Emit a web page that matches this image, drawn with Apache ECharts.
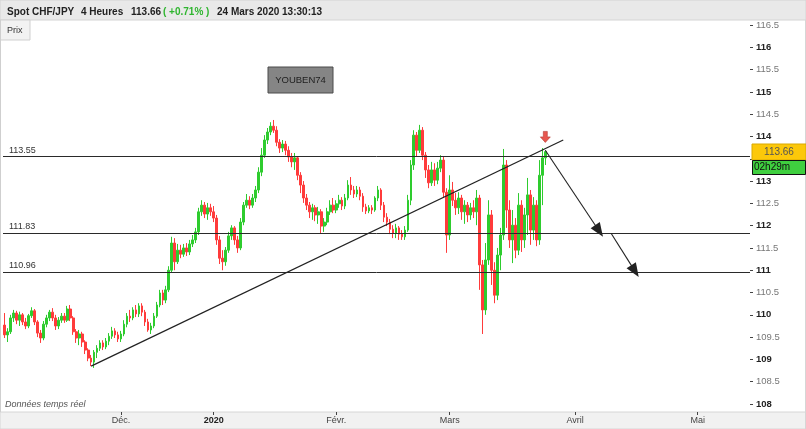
<!DOCTYPE html>
<html><head><meta charset="utf-8">
<script src="https://cdn.jsdelivr.net/npm/echarts@6/dist/echarts.min.js"></script>
<style>html,body{margin:0;padding:0;background:#fff}#c{width:806px;height:429px}</style>
</head><body><div id="c"></div>
<script>
const FONT = "'Liberation Sans', Arial, sans-serif";
// [open, close, low, high] — 4h candles, CHF/JPY
const candles = [
[109.77,109.55,109.48,110.04],[109.55,109.62,109.39,109.70],[109.62,109.93,109.57,110.00],[109.93,110.04,109.84,110.11],
[110.04,109.88,109.79,110.09],[109.88,110.00,109.75,110.07],[110.00,109.84,109.77,110.04],[109.84,109.75,109.68,109.93],
[109.75,109.98,109.70,110.02],[109.98,110.09,109.93,110.17],[110.09,109.84,109.77,110.13],[109.84,109.59,109.50,109.88],
[109.59,109.48,109.37,109.66],[109.48,109.79,109.43,109.86],[109.79,109.93,109.72,110.00],[109.93,110.06,109.86,110.11],
[110.06,109.93,109.86,110.15],[109.93,109.75,109.66,110.00],[109.75,109.88,109.68,109.95],[109.88,109.97,109.82,110.04],
[109.97,109.88,109.82,110.04],[109.88,110.13,109.84,110.20],[110.13,109.93,109.86,110.22],[109.93,109.62,109.55,109.97],
[109.62,109.48,109.37,109.68],[109.48,109.57,109.32,109.66],[109.57,109.39,109.28,109.62],[109.39,109.21,109.12,109.43],
[109.21,109.03,108.96,109.25],[109.03,108.94,108.85,109.10],[108.94,109.16,108.81,109.21],[109.16,109.25,109.03,109.32],
[109.25,109.37,109.19,109.43],[109.37,109.28,109.21,109.43],[109.28,109.41,109.23,109.48],[109.41,109.52,109.32,109.59],
[109.52,109.64,109.46,109.73],[109.64,109.55,109.48,109.70],[109.55,109.46,109.39,109.62],[109.46,109.57,109.39,109.64],
[109.57,109.79,109.52,109.88],[109.79,109.97,109.72,110.04],[109.97,109.93,109.84,110.11],[109.93,110.11,109.88,110.17],
[110.11,110.02,109.95,110.22],[110.02,110.20,109.95,110.26],[110.20,110.06,109.97,110.26],[110.06,109.84,109.75,110.11],
[109.84,109.66,109.62,109.91],[109.66,109.75,109.57,109.82],[109.75,109.97,109.70,110.04],[109.97,110.22,109.93,110.29],
[110.22,110.49,110.17,110.56],[110.49,110.33,110.22,110.56],[110.33,110.56,110.26,110.65],[110.56,111.00,110.51,111.09],
[111.00,111.61,110.94,111.75],[111.61,111.19,111.00,111.72],[111.19,111.45,111.14,111.59],[111.45,111.36,111.27,111.57],
[111.36,111.50,111.30,111.59],[111.50,111.41,111.32,111.61],[111.41,111.59,111.34,111.68],[111.59,111.68,111.52,111.79],
[111.68,111.86,111.61,111.95],[111.86,112.31,111.79,112.40],[112.31,112.46,112.22,112.57],[112.46,112.26,112.17,112.53],
[112.26,112.40,112.13,112.51],[112.40,112.31,112.22,112.49],[112.31,112.17,112.08,112.44],[112.17,111.68,111.57,112.24],
[111.68,111.27,111.14,111.77],[111.27,111.19,111.00,111.45],[111.19,111.45,111.10,111.52],[111.45,111.77,111.39,111.86],
[111.77,111.95,111.68,112.01],[111.95,111.68,111.57,111.99],[111.68,111.50,111.39,111.77],[111.50,112.08,111.45,112.17],
[112.08,112.46,112.01,112.53],[112.46,112.57,112.40,112.71],[112.57,112.46,112.37,112.66],[112.46,112.62,112.40,112.71],
[112.62,112.80,112.53,112.89],[112.80,113.20,112.73,113.31],[113.20,113.58,113.11,113.74],[113.58,113.92,113.52,114.03],
[113.92,114.10,113.83,114.19],[114.10,114.23,114.03,114.32],[114.23,114.14,114.08,114.37],[114.14,113.87,113.78,114.23],
[113.87,113.74,113.63,113.94],[113.74,113.83,113.65,113.92],[113.83,113.69,113.58,113.90],[113.69,113.54,113.43,113.78],
[113.54,113.43,113.31,113.63],[113.43,113.52,113.25,113.63],[113.52,113.13,113.02,113.56],[113.13,112.91,112.73,113.20],
[112.91,112.62,112.51,113.00],[112.62,112.46,112.35,112.71],[112.46,112.31,112.17,112.53],[112.31,112.40,112.13,112.49],
[112.40,112.24,112.10,112.46],[112.24,112.31,112.04,112.42],[112.31,111.99,111.83,112.37],[111.99,112.08,111.86,112.17],
[112.08,112.31,112.01,112.40],[112.31,112.46,112.24,112.57],[112.46,112.35,112.28,112.62],[112.35,112.49,112.28,112.57],
[112.49,112.57,112.40,112.69],[112.57,112.44,112.35,112.64],[112.44,112.62,112.37,112.71],[112.62,112.91,112.57,113.02],
[112.91,112.80,112.69,113.09],[112.80,112.71,112.62,112.89],[112.71,112.80,112.64,112.89],[112.80,112.66,112.57,112.87],
[112.66,112.42,112.31,112.73],[112.42,112.33,112.26,112.49],[112.33,112.40,112.28,112.46],[112.40,112.35,112.26,112.46],
[112.35,112.62,112.31,112.66],[112.62,112.80,112.55,112.89],[112.80,112.46,112.35,112.84],[112.46,112.19,112.08,112.53],
[112.19,112.08,111.99,112.28],[112.08,111.92,111.81,112.15],[111.92,111.83,111.72,112.01],[111.83,111.95,111.72,112.04],
[111.95,111.81,111.68,111.99],[111.81,111.75,111.68,111.90],[111.75,111.90,111.68,111.99],[111.90,112.57,111.86,112.69],
[112.57,113.36,112.46,113.47],[113.36,114.03,113.25,114.14],[114.03,113.69,113.54,114.10],[113.69,114.14,113.63,114.26],
[114.14,113.58,113.47,114.21],[113.58,113.25,113.07,113.65],[113.25,112.96,112.84,113.36],[112.96,113.25,112.89,113.43],
[113.25,113.02,112.89,113.40],[113.02,113.29,112.93,113.43],[113.29,113.47,113.20,113.58],[113.47,112.75,112.62,113.54],
[112.75,111.79,111.39,112.84],[111.79,112.80,111.68,113.13],[112.80,112.57,112.44,112.98],[112.57,112.40,112.24,112.73],
[112.40,112.62,112.26,112.75],[112.62,112.31,112.13,112.69],[112.31,112.46,112.04,112.57],[112.46,112.24,112.08,112.53],
[112.24,112.40,112.13,112.51],[112.40,112.31,112.17,112.57],[112.31,112.62,112.01,112.80],[112.62,111.12,110.56,112.69],
[111.12,110.11,109.57,111.23],[110.11,111.23,110.00,111.61],[111.23,112.24,111.12,112.57],[112.24,111.00,110.67,112.35],
[111.00,110.44,110.26,111.18],[110.44,111.34,110.33,111.50],[111.34,111.79,111.00,111.95],[111.79,113.36,111.68,113.72],
[113.36,112.35,111.95,113.47],[112.35,111.68,111.50,112.57],[111.68,112.01,111.16,112.35],[112.01,111.45,111.27,112.17],
[111.45,112.46,111.34,112.73],[112.46,111.68,111.41,112.57],[111.68,112.24,111.50,112.40],[112.24,112.69,111.79,113.07],
[112.69,111.90,111.57,112.80],[111.90,112.46,111.68,112.64],[112.46,111.68,111.54,112.57],[111.68,113.13,111.57,113.47],
[113.13,113.52,112.46,113.74],[113.52,113.66,113.36,113.69]
];
const slotCount = 250;                 // 4h slots on the time axis (incl. future area)
const xTickSlots = [39, 70, 111, 149, 191, 232];
const xTickLabels = ['Déc.', '2020', 'Févr.', 'Mars', 'Avril', 'Mai'];
const levels = [113.55, 111.83, 110.96];
const trendLine = [[29, 108.85], [187, 113.92]];
const arrow1 = [[181, 113.69], [199, 111.88]];
const arrow2 = [[203, 111.83], [211, 110.98]];
const signalPoint = [181, 113.99];
const lastPrice = 113.66;
const countdown = '02h29m';
const yMin = 108, yMax = 116.5, yStep = 0.5;

const slots = Array.from({length: slotCount}, (_, i) => String(i));
const chart = echarts.init(document.getElementById('c'), null, {renderer: 'canvas'});

const lineStyle = {color: '#2a2a2a', width: 1, type: 'solid'};
const markData = levels.map(v => ({
  yAxis: v,
  lineStyle: lineStyle,
  label: {show: true, formatter: v.toFixed(2), position: 'insideStartTop', color: '#333',
          fontSize: 9, fontFamily: FONT, distance: [6, 2]}
}));
markData.push([{coord: trendLine[0], symbol: 'none', lineStyle: {color: '#222', width: 1.2}}, {coord: trendLine[1], symbol: 'none'}]);
[arrow1, arrow2].forEach(a => markData.push([
  {coord: a[0], symbol: 'none', lineStyle: {color: '#222', width: 1.1}},
  {coord: a[1], symbol: 'triangle', symbolSize: [11, 14]}
]));

chart.setOption({
  animation: false,
  backgroundColor: '#fff',
  grid: {left: 3, right: 56, top: 25, bottom: 25, containLabel: false},
  xAxis: {
    type: 'category', data: slots, boundaryGap: true, offset: 8,
    axisLine: {show: false},
    axisTick: {show: true, alignWithLabel: true, length: 3, lineStyle: {color: '#444'},
               interval: (i) => xTickSlots.includes(i)},
    axisLabel: {
      interval: (i) => xTickSlots.includes(i), margin: 4, fontSize: 9, color: '#444', fontFamily: FONT,
      formatter: (v) => {
        const k = xTickSlots.indexOf(Number(v));
        if (k < 0) return '';
        return k === 1 ? '{b|' + xTickLabels[k] + '}' : xTickLabels[k];
      },
      rich: {b: {fontWeight: 'bold', fontSize: 9, color: '#222', fontFamily: FONT}}
    },
    splitLine: {show: false}
  },
  yAxis: {
    type: 'value', position: 'right', min: yMin, max: yMax, interval: yStep,
    axisLine: {show: false},
    axisTick: {show: true, length: 3, lineStyle: {color: '#444'}},
    splitLine: {show: false},
    axisLabel: {
      margin: 6, fontFamily: FONT,
      formatter: v => (Math.abs(v - Math.round(v)) < 1e-6 ? '{b|' + Math.round(v) + '}' : '{n|' + v.toFixed(1) + '}'),
      rich: {
        b: {fontWeight: 'bold', fontSize: 9.5, color: '#222', fontFamily: FONT},
        n: {fontSize: 9.5, color: '#777', fontFamily: FONT}
      }
    }
  },
  series: [{
    type: 'candlestick',
    data: candles,
    barWidth: 2.2,
    itemStyle: {color: '#2ecc2e', color0: '#ff3b3b', borderColor: '#2ecc2e', borderColor0: '#ff3b3b', borderWidth: 1},
    markLine: {silent: true, symbol: 'none', animation: false, lineStyle: lineStyle, data: markData,
               label: {show: false}},
    markPoint: {
      silent: true,
      data: [{coord: signalPoint, symbol: 'path://M3,0 L7,0 L7,5 L10,5 L5,10 L0,5 L3,5 Z', symbolSize: [10, 11],
              itemStyle: {color: '#e8574f', borderColor: '#b33a33', borderWidth: 0.6}, label: {show: false}}]
    }
  }]
});

const yLast = chart.convertToPixel({yAxisIndex: 0}, lastPrice);
const txt = (x, y, t, o) => ({type: 'text', x, y, z: 20,
  style: Object.assign({text: t, fill: '#222', font: 'bold 10px ' + FONT, textVerticalAlign: 'middle'}, o || {})});
chart.setOption({
  graphic: [
    {type: 'rect', shape: {x: 0, y: 0, width: 806, height: 20}, style: {fill: '#e9e9e9', stroke: '#d4d4d4', lineWidth: 1}, z: 10},
    txt(7, 12, 'Spot CHF/JPY'),
    txt(81, 12, '4 Heures'),
    txt(131, 12, '113.66'),
    txt(163, 12, '( +0.71% )', {fill: '#2fb52f'}),
    txt(217, 12, '24 Mars 2020 13:30:13'),
    {type: 'rect', shape: {x: 0, y: 20, width: 30, height: 20}, style: {fill: '#f2f2f2', stroke: '#d0d0d0', lineWidth: 1}, z: 10},
    txt(7, 30.5, 'Prix', {font: '9px ' + FONT, fill: '#333'}),
    {type: 'rect', shape: {x: 0, y: 412, width: 806, height: 17}, style: {fill: '#f1f1f1', stroke: '#d6d6d6', lineWidth: 1}, z: -10},
    {type: 'line', shape: {x1: 0.5, y1: 20, x2: 0.5, y2: 412}, style: {stroke: '#cfcfcf', lineWidth: 1}, z: 10},
    {type: 'line', shape: {x1: 805.5, y1: 20, x2: 805.5, y2: 429}, style: {stroke: '#d6d6d6', lineWidth: 1}, z: 10},
    txt(5, 404, 'Données temps réel', {font: 'italic 9px ' + FONT, fill: '#555'}),
    {type: 'rect', shape: {x: 268, y: 67, width: 65, height: 26}, style: {fill: '#858585', stroke: '#4a4a4a', lineWidth: 1}, z: 10},
    {type: 'text', x: 300.5, y: 80.5, z: 20, style: {text: 'YOUBEN74', fill: '#1e1e1e', font: '9.5px ' + FONT, textAlign: 'center', textVerticalAlign: 'middle'}},
    {type: 'rect', shape: {x: 752, y: Math.round(yLast) - 8, width: 54, height: 16}, style: {fill: '#fcc80a', stroke: '#d9a800', lineWidth: 1}, z: 10},
    {type: 'text', x: 779, y: Math.round(yLast), z: 20, style: {text: lastPrice.toFixed(2), fill: '#555', font: '10px ' + FONT, textAlign: 'center', textVerticalAlign: 'middle'}},
    {type: 'rect', shape: {x: 752.5, y: Math.round(yLast) + 8.5, width: 53, height: 14}, style: {fill: '#3fcf3f', stroke: '#111', lineWidth: 1}, z: 10},
    {type: 'text', x: 754, y: Math.round(yLast) + 15.5, z: 20, style: {text: countdown, fill: '#111', font: '10px ' + FONT, textVerticalAlign: 'middle'}}
  ]
});
</script></body></html>
